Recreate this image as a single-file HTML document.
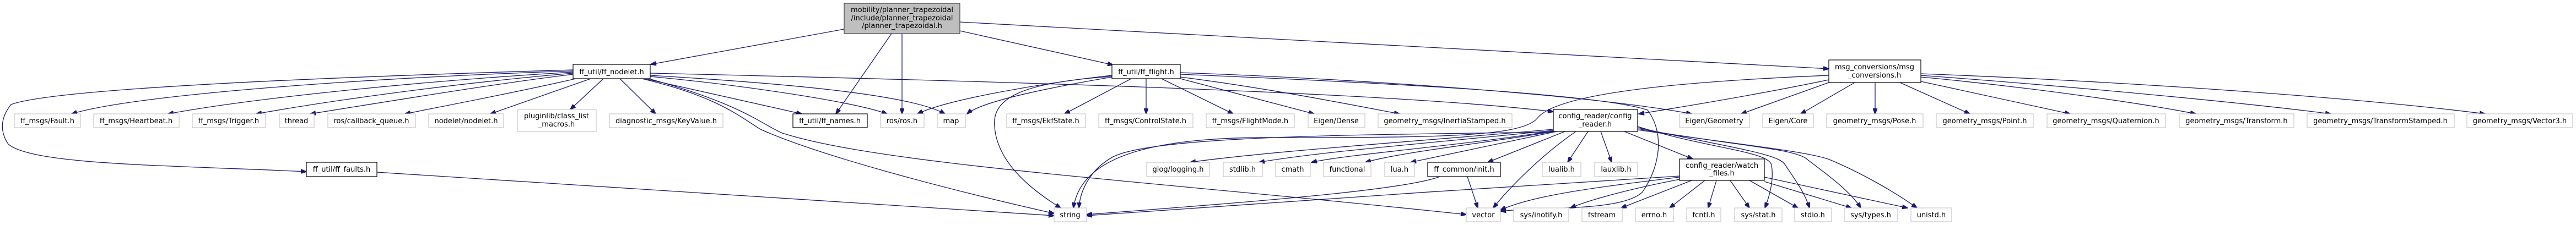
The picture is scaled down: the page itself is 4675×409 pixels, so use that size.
<!DOCTYPE html>
<html><head><meta charset="utf-8"><style>
html,body{margin:0;padding:0;background:#fff;}
svg{display:block;}
text{font-family:"DejaVu Sans","Liberation Sans",sans-serif;font-size:13px;fill:#000;text-anchor:middle;}
.e{fill:none;stroke:#191970;stroke-width:1.3;marker-end:url(#a);}
.x{fill:#fff;stroke:#c8c8c8;stroke-width:1.2;}
.d{fill:#fff;stroke:#000;stroke-width:1.2;}
</style></head><body>
<svg width="4675" height="409" viewBox="0 0 4675 409" xmlns="http://www.w3.org/2000/svg">
<defs><marker id="a" markerUnits="userSpaceOnUse" markerWidth="11" markerHeight="8" refX="10" refY="4" orient="auto"><path d="M0,0 L11,4 L0,8 z" fill="#191970" stroke="#191970"/></marker></defs>

<!-- edges from main -->
<path class="e" d="M1532,53 L1181,117"/>
<path class="e" d="M1618,61 L1517,207"/>
<path class="e" d="M1637,61 L1637,207"/>
<path class="e" d="M1742,56 L2020,118"/>
<path class="e" d="M1742,40 C2300,70 2900,105 3319,125"/>

<!-- ff_nodelet edges -->
<path class="e" d="M1040,127 C600,140 100,160 20,190 C0,215 0,240 15,262 C60,300 300,300 556,312"/>
<path class="e" d="M1040,129 C700,140 250,170 130,207"/>
<path class="e" d="M1040,131 C750,148 450,180 305,207"/>
<path class="e" d="M1040,133 C820,152 600,183 465,207"/>
<path class="e" d="M1040,135 C900,152 720,182 563,207"/>
<path class="e" d="M1045,143 C950,165 820,190 735,207"/>
<path class="e" d="M1072,143 L890,207"/>
<path class="e" d="M1095,143 L1035,199"/>
<path class="e" d="M1125,143 L1190,207"/>
<path class="e" d="M1170,143 L1455,207"/>
<path class="e" d="M1180,139 C1350,155 1550,185 1610,207"/>
<path class="e" d="M1180,137 C1400,150 1650,170 1715,207"/>
<path class="e" d="M1180,133 C1700,145 2500,165 2819,203"/>
<path class="e" d="M1165,143 C1300,175 1340,210 1380,235 C1480,280 1700,340 1913,388"/>
<path class="e" d="M1170,141 C1350,190 1380,225 1420,242 C1600,300 2100,330 2661,390"/>
<path class="e" d="M684,313 C1200,345 1600,370 1913,392"/>

<!-- ff_flight edges -->
<path class="e" d="M2018,137 C1900,150 1720,180 1665,207"/>
<path class="e" d="M2018,140 C1900,160 1780,185 1755,207"/>
<path class="e" d="M2018,139 C1850,150 1800,180 1805,230 C1810,300 1880,350 1925,378"/>
<path class="e" d="M2053,143 L1932,207"/>
<path class="e" d="M2080,143 L2080,207"/>
<path class="e" d="M2108,143 L2238,207"/>
<path class="e" d="M2142,143 L2385,207"/>
<path class="e" d="M2142,140 C2300,160 2450,190 2540,207"/>
<path class="e" d="M2142,132 C2500,145 2900,175 3070,207"/>
<path class="e" d="M2142,135 C2500,150 2900,170 2990,200 C3020,240 3015,300 2980,350 C2940,385 2800,375 2723,384"/>

<!-- msg_conversions edges -->
<path class="e" d="M3366,150 L3268,207"/>
<path class="e" d="M3403,150 L3403,207"/>
<path class="e" d="M3448,150 L3575,207"/>
<path class="e" d="M3486,148 L3757,207"/>
<path class="e" d="M3486,140 C3700,160 3900,190 3985,207"/>
<path class="e" d="M3486,137 C3800,160 4100,190 4230,207"/>
<path class="e" d="M3486,134 C3900,150 4300,180 4510,207"/>
<path class="e" d="M3319,150 L3160,207"/>
<path class="e" d="M3319,145 C3200,170 3050,195 2974,207"/>
<path class="e" d="M3319,137 C3000,150 2820,175 2790,215 C2760,250 2600,250 2300,250 C2050,250 1960,300 1948,378"/>

<!-- config_reader edges -->
<path class="e" d="M2819,235 C2600,255 2300,275 2160,295"/>
<path class="e" d="M2819,237 C2600,260 2400,275 2285,295"/>
<path class="e" d="M2819,238 C2650,265 2450,280 2380,295"/>
<path class="e" d="M2819,239 C2700,260 2550,275 2478,295"/>
<path class="e" d="M2825,239 L2560,295"/>
<path class="e" d="M2840,239 L2700,295"/>
<path class="e" d="M2882,239 L2845,295"/>
<path class="e" d="M2905,239 L2925,295"/>
<path class="e" d="M2948,239 L3072,289"/>
<path class="e" d="M2860,239 C2800,280 2740,340 2710,378"/>
<path class="e" d="M2819,240 C2500,245 2100,245 2020,285 C1975,310 1960,350 1958,378"/>
<path class="e" d="M2972,230 C3100,270 3210,275 3215,300 C3220,330 3210,360 3203,378"/>
<path class="e" d="M2972,232 C3150,270 3230,280 3240,300 C3260,330 3275,350 3284,378"/>
<path class="e" d="M2972,234 C3150,265 3260,270 3280,290 C3320,320 3360,350 3377,378"/>
<path class="e" d="M2972,236 C3150,262 3280,275 3320,290 C3380,315 3440,350 3479,378"/>

<!-- init.h edges -->
<path class="e" d="M2663,321 L2682,378"/>
<path class="e" d="M2613,321 C2550,345 2300,365 1972,390"/>

<!-- watch_files edges -->
<path class="e" d="M3048,322 C2900,340 2780,355 2723,382"/>
<path class="e" d="M3048,326 C2950,345 2880,365 2850,378"/>
<path class="e" d="M3070,328 L2942,378"/>
<path class="e" d="M3094,328 L3030,378"/>
<path class="e" d="M3115,328 L3100,378"/>
<path class="e" d="M3140,328 L3175,378"/>
<path class="e" d="M3175,328 L3263,378"/>
<path class="e" d="M3202,330 L3360,378"/>
<path class="e" d="M3202,322 L3462,378"/>
<path class="e" d="M3048,320 C2700,340 2300,370 1972,392"/>

<!-- main node -->
<rect x="1532" y="6" width="210" height="55" fill="#bfbfbf" stroke="#404040" stroke-width="1.2"/>
<text x="1637" y="22">mobility/planner_trapezoidal</text>
<text x="1637" y="37">/include/planner_trapezoidal</text>
<text x="1637" y="51">/planner_trapezoidal.h</text>

<!-- documented nodes -->
<rect class="d" x="1040" y="117" width="140" height="26"/><text x="1110" y="135">ff_util/ff_nodelet.h</text>
<rect class="d" x="2018" y="117" width="124" height="26"/><text x="2080" y="135">ff_util/ff_flight.h</text>
<rect class="d" x="3319" y="109" width="167" height="41"/><text x="3402" y="126">msg_conversions/msg</text><text x="3402" y="141">_conversions.h</text>
<rect class="d" x="1439" y="207" width="135" height="25"/><text x="1506" y="224">ff_util/ff_names.h</text>
<rect class="d" x="2819" y="199" width="153" height="40"/><text x="2895" y="215">config_reader/config</text><text x="2895" y="230">_reader.h</text>
<rect class="d" x="556" y="295" width="128" height="26"/><text x="620" y="312">ff_util/ff_faults.h</text>
<rect class="d" x="2591" y="295" width="132" height="26"/><text x="2657" y="312">ff_common/init.h</text>
<rect class="d" x="3048" y="289" width="154" height="39"/><text x="3125" y="305">config_reader/watch</text><text x="3125" y="319">_files.h</text>

<!-- row 2 external -->
<rect class="x" x="26" y="207" width="120" height="25"/><text x="86" y="224">ff_msgs/Fault.h</text>
<rect class="x" x="170" y="207" width="155" height="25"/><text x="247" y="224">ff_msgs/Heartbeat.h</text>
<rect class="x" x="349" y="207" width="133" height="25"/><text x="415" y="224">ff_msgs/Trigger.h</text>
<rect class="x" x="507" y="207" width="63" height="25"/><text x="538" y="224">thread</text>
<rect class="x" x="595" y="207" width="159" height="25"/><text x="674" y="224">ros/callback_queue.h</text>
<rect class="x" x="778" y="207" width="136" height="25"/><text x="846" y="224">nodelet/nodelet.h</text>
<rect class="x" x="939" y="199" width="143" height="40"/><text x="1010" y="215">pluginlib/class_list</text><text x="1010" y="230">_macros.h</text>
<rect class="x" x="1106" y="207" width="206" height="25"/><text x="1209" y="224">diagnostic_msgs/KeyValue.h</text>
<rect class="x" x="1598" y="207" width="79" height="25"/><text x="1637" y="224">ros/ros.h</text>
<rect class="x" x="1701" y="207" width="51" height="25"/><text x="1726" y="224">map</text>
<rect class="x" x="1827" y="207" width="143" height="25"/><text x="1898" y="224">ff_msgs/EkfState.h</text>
<rect class="x" x="1994" y="207" width="171" height="25"/><text x="2079" y="224">ff_msgs/ControlState.h</text>
<rect class="x" x="2189" y="207" width="160" height="25"/><text x="2269" y="224">ff_msgs/FlightMode.h</text>
<rect class="x" x="2374" y="207" width="103" height="25"/><text x="2425" y="224">Eigen/Dense</text>
<rect class="x" x="2501" y="207" width="243" height="25"/><text x="2622" y="224">geometry_msgs/InertiaStamped.h</text>
<rect class="x" x="3048" y="207" width="127" height="25"/><text x="3111" y="224">Eigen/Geometry</text>
<rect class="x" x="3199" y="207" width="92" height="25"/><text x="3245" y="224">Eigen/Core</text>
<rect class="x" x="3315" y="207" width="175" height="25"/><text x="3402" y="224">geometry_msgs/Pose.h</text>
<rect class="x" x="3514" y="207" width="176" height="25"/><text x="3602" y="224">geometry_msgs/Point.h</text>
<rect class="x" x="3715" y="207" width="215" height="25"/><text x="3822" y="224">geometry_msgs/Quaternion.h</text>
<rect class="x" x="3955" y="207" width="208" height="25"/><text x="4059" y="224">geometry_msgs/Transform.h</text>
<rect class="x" x="4187" y="207" width="267" height="25"/><text x="4320" y="224">geometry_msgs/TransformStamped.h</text>
<rect class="x" x="4477" y="207" width="192" height="25"/><text x="4573" y="224">geometry_msgs/Vector3.h</text>

<!-- row 3 external -->
<rect class="x" x="2081" y="295" width="114" height="26"/><text x="2138" y="312">glog/logging.h</text>
<rect class="x" x="2220" y="295" width="71" height="26"/><text x="2255" y="312">stdlib.h</text>
<rect class="x" x="2315" y="295" width="63" height="26"/><text x="2346" y="312">cmath</text>
<rect class="x" x="2402" y="295" width="86" height="26"/><text x="2445" y="312">functional</text>
<rect class="x" x="2513" y="295" width="54" height="26"/><text x="2540" y="312">lua.h</text>
<rect class="x" x="2799" y="295" width="70" height="26"/><text x="2834" y="312">lualib.h</text>
<rect class="x" x="2894" y="295" width="78" height="26"/><text x="2933" y="312">lauxlib.h</text>

<!-- row 4 external -->
<rect class="x" x="1913" y="378" width="59" height="25"/><text x="1942" y="395">string</text>
<rect class="x" x="2661" y="378" width="62" height="25"/><text x="2692" y="395">vector</text>
<rect class="x" x="2747" y="378" width="100" height="25"/><text x="2797" y="395">sys/inotify.h</text>
<rect class="x" x="2871" y="378" width="73" height="25"/><text x="2907" y="395">fstream</text>
<rect class="x" x="2968" y="378" width="69" height="25"/><text x="3002" y="395">errno.h</text>
<rect class="x" x="3061" y="378" width="62" height="25"/><text x="3092" y="395">fcntl.h</text>
<rect class="x" x="3148" y="378" width="86" height="25"/><text x="3191" y="395">sys/stat.h</text>
<rect class="x" x="3257" y="378" width="67" height="25"/><text x="3290" y="395">stdio.h</text>
<rect class="x" x="3347" y="378" width="97" height="25"/><text x="3395" y="395">sys/types.h</text>
<rect class="x" x="3468" y="378" width="74" height="25"/><text x="3505" y="395">unistd.h</text>
</svg>
</body></html>
